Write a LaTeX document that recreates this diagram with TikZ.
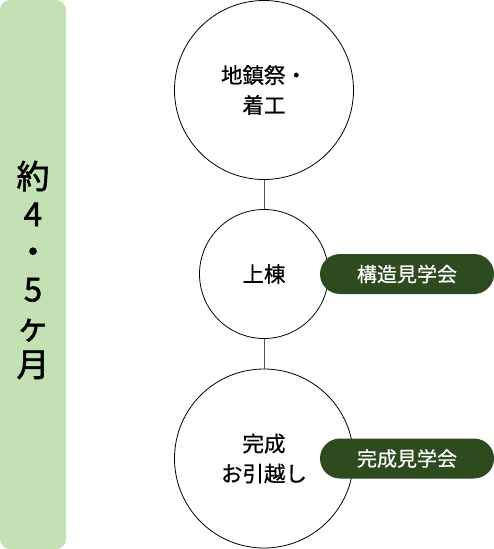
\documentclass[tikz,border=0pt]{standalone}
\usepackage{fontspec}
\newfontfamily\jp[FakeBold=0.6]{Noto Sans CJK JP}
\newfontfamily\jpbar[FakeBold=1.6]{Noto Sans CJK JP}
\definecolor{barfill}{HTML}{C3E1B5}
\definecolor{pillfill}{HTML}{2E4A1F}
\definecolor{linegray}{HTML}{555555}
\tikzset{
  stepcircle/.style={circle, draw=black, line width=0.8pt, fill=white, inner sep=0pt, align=center,
    font=\jp\fontsize{21.5}{30}\selectfont},
  pillbox/.style={fill=pillfill, rounded corners=20pt, minimum width=174pt, minimum height=40pt,
    inner sep=0pt, text=white, font=\jp\fontsize{20}{22}\selectfont},
  conn/.style={draw=linegray, line width=0.8pt},
  barbox/.style={fill=barfill, rounded corners=10pt, minimum width=66pt, minimum height=549pt, inner sep=0pt},
  bartext/.style={align=center, inner sep=0pt, font=\jpbar\fontsize{33}{37.6}\selectfont}
}
\begin{document}
\begin{tikzpicture}[x=1pt,y=-1pt]
\useasboundingbox (0,0) rectangle (494,549);
\node[barbox] (bar) at (33,274.5) {};
\node[bartext] (bart) at (33,270) {約\\4\\・\\5\\ヶ\\月};
\node[stepcircle, minimum size=179pt] (c1) at (264,90) {地鎮祭・\\着工};
\node[stepcircle, minimum size=129pt] (c2) at (264,274) {上棟};
\node[stepcircle, minimum size=179pt] (c3) at (264,458.5) {完成\\お引越し};
\draw[conn] (c1.south) -- (c2.north);
\draw[conn] (c2.south) -- (c3.north);
\node[pillbox] (p1) at (407,274) {構造見学会};
\node[pillbox] (p2) at (407,458.5) {完成見学会};
\end{tikzpicture}
\end{document}
